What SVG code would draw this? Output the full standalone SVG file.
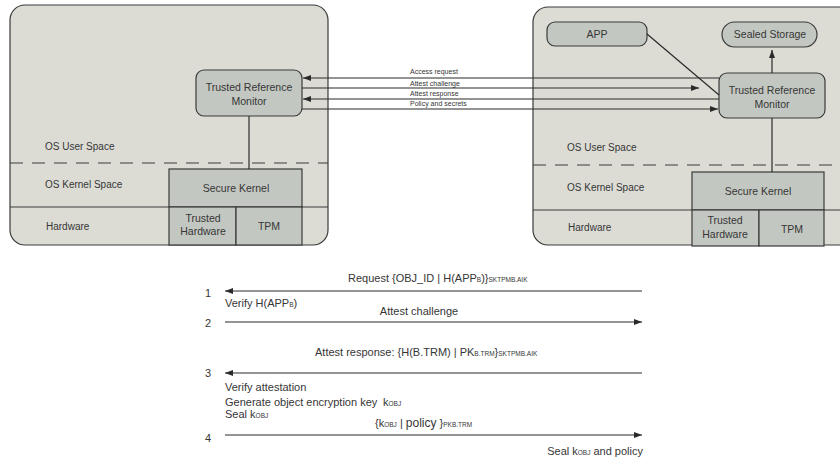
<svg xmlns="http://www.w3.org/2000/svg" width="840" height="458" viewBox="0 0 840 458">
  <style>
    .platform { fill: #dcdcd5; stroke: #3a3a3a; stroke-width: 1.2; }
    .node { fill: #c3c7c1; stroke: #3a3a3a; stroke-width: 1.2; }
    .sep { stroke: #3a3a3a; stroke-width: 1; fill: none; }
    .dash { stroke: #3a3a3a; stroke-width: 1; stroke-dasharray: 13 9; fill: none; }
    .link { stroke: #2a2a2a; stroke-width: 1.2; fill: none; }
    text { font-family: "Liberation Sans", Arial, sans-serif; fill: #363636; }
    .lbl { font-size: 10px; }
    .nd { font-size: 10.5px; text-anchor: middle; }
    .msg { font-size: 7px; }
    .seq { font-size: 11px; }
    .sm { font-size: 6.5px; }
  </style>
  <defs>
    <marker id="arrow" viewBox="0 0 8 6" refX="8" refY="3" markerWidth="8" markerHeight="6" markerUnits="userSpaceOnUse" orient="auto-start-reverse">
      <path d="M0,0 L8,3 L0,6 z" fill="#2a2a2a"/>
    </marker>
  </defs>

  <!-- Platform A -->
  <g id="platform-a">
    <rect class="platform" x="10" y="5" width="318" height="240" rx="15"/>
    <line class="dash" x1="10" y1="163" x2="328" y2="163"/>
    <line class="sep" x1="10" y1="207" x2="328" y2="207"/>
    <text class="lbl" x="45" y="150">OS User Space</text>
    <text class="lbl" x="45" y="188">OS Kernel Space</text>
    <text class="lbl" x="46" y="230">Hardware</text>
  </g>
  <g id="trm-a">
    <rect class="node" x="196" y="70" width="106" height="46" rx="8"/>
    <text class="nd" x="249" y="91">Trusted Reference</text>
    <text class="nd" x="249" y="105">Monitor</text>
  </g>
  <g id="sk-a">
    <rect class="node" x="169" y="169" width="133" height="38"/>
    <text class="nd" x="236" y="192">Secure Kernel</text>
  </g>
  <g id="th-a">
    <rect class="node" x="169" y="207" width="67" height="38"/>
    <text class="nd" x="203" y="222">Trusted</text>
    <text class="nd" x="203" y="235">Hardware</text>
  </g>
  <g id="tpm-a">
    <rect class="node" x="236" y="207" width="66" height="38"/>
    <text class="nd" x="269" y="230">TPM</text>
  </g>

  <!-- Platform B -->
  <g id="platform-b">
    <rect class="platform" x="533" y="7" width="330" height="238" rx="15"/>
    <line class="dash" x1="533" y1="165" x2="840" y2="165"/>
    <line class="sep" x1="533" y1="210" x2="840" y2="210"/>
    <text class="lbl" x="567" y="151">OS User Space</text>
    <text class="lbl" x="567" y="191">OS Kernel Space</text>
    <text class="lbl" x="568" y="231">Hardware</text>
  </g>
  <g id="app-b">
    <rect class="node" x="547" y="22" width="100" height="24" rx="8"/>
    <text class="nd" x="597" y="38">APP</text>
  </g>
  <g id="sealed-storage">
    <rect class="node" x="722" y="22" width="95" height="25" rx="12.5"/>
    <text class="nd" x="770" y="38">Sealed Storage</text>
  </g>
  <g id="trm-b">
    <rect class="node" x="719" y="73" width="106" height="45" rx="8"/>
    <text class="nd" x="772" y="94">Trusted Reference</text>
    <text class="nd" x="772" y="108">Monitor</text>
  </g>
  <g id="sk-b">
    <rect class="node" x="692" y="172" width="132" height="38"/>
    <text class="nd" x="758" y="195">Secure Kernel</text>
  </g>
  <g id="th-b">
    <rect class="node" x="692" y="210" width="67" height="36"/>
    <text class="nd" x="725" y="224">Trusted</text>
    <text class="nd" x="725" y="238">Hardware</text>
  </g>
  <g id="tpm-b">
    <rect class="node" x="759" y="210" width="65" height="36"/>
    <text class="nd" x="792" y="233">TPM</text>
  </g>

  <!-- Connectors -->
  <g id="connectors">
    <line class="link" x1="249" y1="116" x2="249" y2="169"/>
    <line class="link" x1="772" y1="118" x2="772" y2="172"/>
    <line class="link" x1="772" y1="73" x2="772" y2="50" marker-end="url(#arrow)"/>
    <line class="link" x1="647" y1="34" x2="719" y2="95"/>
    <line class="link" x1="719" y1="78" x2="303" y2="78" marker-end="url(#arrow)"/>
    <line class="link" x1="302" y1="88" x2="699" y2="88" marker-end="url(#arrow)"/>
    <line class="link" x1="719" y1="99" x2="303" y2="99" marker-end="url(#arrow)"/>
    <line class="link" x1="302" y1="109" x2="718" y2="109" marker-end="url(#arrow)"/>
    <text class="msg" x="410" y="74">Access request</text>
    <text class="msg" x="410" y="86">Attest challenge</text>
    <text class="msg" x="410" y="96">Attest response</text>
    <text class="msg" x="410" y="106">Policy and secrets</text>
  </g>

  <!-- Protocol sequence -->
  <g id="sequence">
    <line class="link" x1="642" y1="291" x2="225" y2="291" marker-end="url(#arrow)"/>
    <line class="link" x1="225" y1="322" x2="642" y2="322" marker-end="url(#arrow)"/>
    <line class="link" x1="642" y1="373" x2="225" y2="373" marker-end="url(#arrow)"/>
    <line class="link" x1="225" y1="435" x2="642" y2="435" marker-end="url(#arrow)"/>

    <text class="seq" x="208" y="297" text-anchor="middle">1</text>
    <text class="seq" x="208" y="327" text-anchor="middle">2</text>
    <text class="seq" x="208" y="377" text-anchor="middle">3</text>
    <text class="seq" x="208" y="442" text-anchor="middle">4</text>

    <text class="seq" x="348" y="282">Request {OBJ_ID | H(APP<tspan class="sm">B</tspan>)}<tspan class="sm">SKTPMB.AIK</tspan></text>
    <text class="seq" x="225" y="307">Verify H(APP<tspan class="sm">B</tspan>)</text>
    <text class="seq" x="419" y="315" text-anchor="middle">Attest challenge</text>
    <text class="seq" x="315" y="356">Attest response: {H(B.TRM) | PK<tspan class="sm">B.TRM</tspan>}<tspan class="sm">SKTPMB.AIK</tspan></text>
    <text class="seq" x="225" y="391">Verify attestation</text>
    <text class="seq" x="225" y="406">Generate object encryption key</text>
    <text class="seq" x="383" y="406">k<tspan class="sm">OBJ</tspan></text>
    <text class="seq" x="225" y="418">Seal k<tspan class="sm">OBJ</tspan></text>
    <text class="seq" x="375" y="427">{k<tspan class="sm">OBJ</tspan> | <tspan font-size="12">policy</tspan> }<tspan class="sm">PKB.TRM</tspan></text>
    <text class="seq" x="643" y="455" text-anchor="end">Seal k<tspan class="sm">OBJ</tspan> and policy</text>
  </g>
</svg>
